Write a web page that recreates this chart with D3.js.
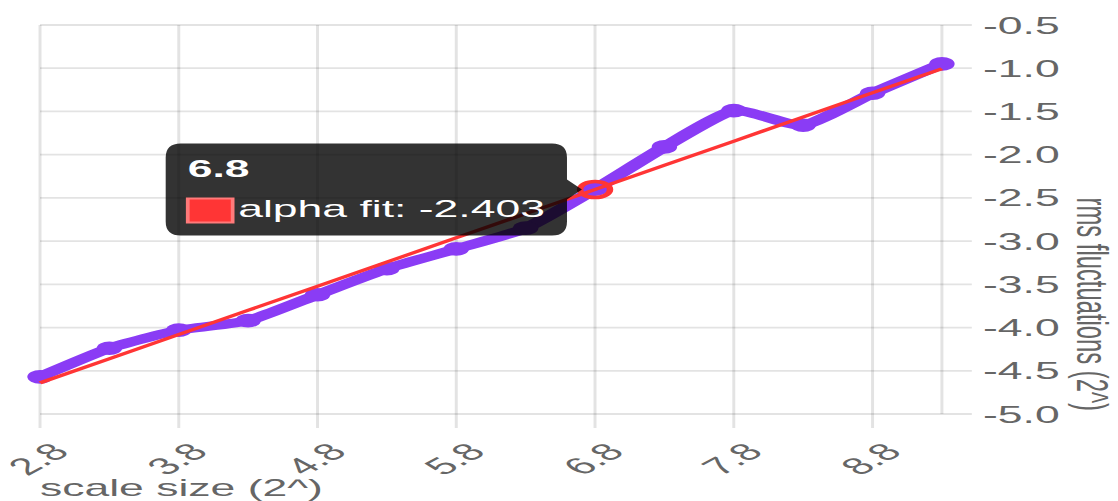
<!DOCTYPE html>
<html>
<head>
<meta charset="utf-8">
<script src="https://cdn.jsdelivr.net/npm/d3@7"></script>
<style>
  html, body { margin: 0; padding: 0; background: #fff; overflow: hidden; }
  svg { display: block; }
</style>
</head>
<body>
<svg id="chart" width="1118" height="501"></svg>
<script>
// Scale sizes (log2) on the category axis
const scaleSizes = ["2.8", "3.3", "3.8", "4.3", "4.8", "5.3", "5.8", "6.3", "6.8", "7.3", "7.8", "8.3", "8.8", "9.3"];
// Measured rms fluctuations (log2)
const rmsFluctuations = [-4.57, -4.24, -4.03, -3.92, -3.62, -3.32, -3.09, -2.85, -2.40, -1.91, -1.49, -1.66, -1.29, -0.95];
// Straight-line fit through the measurements
const alphaFit = [-4.640, -4.360, -4.081, -3.801, -3.522, -3.242, -2.962, -2.683, -2.403, -2.123, -1.844, -1.564, -1.285, -1.005];
const fitLabel = "alpha fit";
const yTicks = [-0.5, -1.0, -1.5, -2.0, -2.5, -3.0, -3.5, -4.0, -4.5, -5.0];
const xTitle = "scale size (2^)";
const yTitle = "rms fluctuations (2^)";
const activeIndex = 8;

// The canvas is drawn in a horizontally stretched coordinate space
const stretchX = 1.87;
const W = 1118, H = 501;
const font = "'Liberation Sans', Arial, Helvetica, sans-serif";
const fontSize = 23.8;
const textColor = "#666";
const gridColor = "rgba(0,0,0,0.11)";
const purple = "#8a3cf5";
const red = "#ff3535";

const plot = { left: 21.4, right: 503.7, top: 25, bottom: 414 };

const svg = d3.select("#chart");
const g = svg.append("g").attr("transform", `scale(${stretchX},1)`);

const x = d3.scalePoint().domain(scaleSizes).range([plot.left, plot.right]);
const y = d3.scaleLinear().domain([-5, -0.5]).range([plot.bottom, plot.top]);

const shownLabels = scaleSizes.filter((d, i) => i % 2 === 0);

// Grid: horizontal lines with tick stubs into the right axis
g.append("g").selectAll("line").data(yTicks).join("line")
  .attr("x1", plot.left).attr("x2", plot.right + 16)
  .attr("y1", d => y(d)).attr("y2", d => y(d))
  .attr("stroke", gridColor).attr("stroke-width", 1.8);

// Grid: vertical lines at the labelled categories, with tick stubs below
g.append("g").selectAll("line").data(shownLabels).join("line")
  .attr("x1", d => x(d)).attr("x2", d => x(d))
  .attr("y1", plot.top).attr("y2", plot.bottom + 14)
  .attr("stroke", gridColor).attr("stroke-width", 1.6);

// Right axis border
g.append("line")
  .attr("x1", plot.right).attr("x2", plot.right)
  .attr("y1", plot.top).attr("y2", plot.bottom)
  .attr("stroke", gridColor).attr("stroke-width", 1.6);

// Y tick labels (right side)
g.append("g").selectAll("text").data(yTicks).join("text")
  .attr("x", plot.right + 22).attr("y", d => y(d)).attr("dy", "0.36em")
  .attr("font-family", font).attr("font-size", fontSize).attr("fill", textColor)
  .text(d => d.toFixed(1));

// X tick labels, rotated
g.append("g").selectAll("text").data(shownLabels).join("text")
  .attr("transform", d => `translate(${x(d) + 10.5},${447}) rotate(-45)`)
  .attr("text-anchor", "end").attr("dy", "0.36em")
  .attr("font-family", font).attr("font-size", fontSize).attr("fill", textColor)
  .text(d => d);

// Axis titles
g.append("text")
  .attr("x", plot.left).attr("y", 496)
  .attr("font-family", font).attr("font-size", fontSize).attr("fill", textColor)
  .text(xTitle);

g.append("text")
  .attr("transform", `translate(${576},${411}) rotate(90)`)
  .attr("text-anchor", "end")
  .attr("font-family", font).attr("font-size", fontSize).attr("fill", textColor)
  .text(yTitle);

// Measured series
const lineGen = d3.line()
  .x((d, i) => x(scaleSizes[i]))
  .y(d => y(d))
  .curve(d3.curveCardinal.tension(0.45));

g.append("path").datum(rmsFluctuations)
  .attr("d", lineGen)
  .attr("fill", "none").attr("stroke", purple)
  .attr("stroke-width", 9).attr("stroke-linejoin", "round").attr("stroke-linecap", "round");

g.append("g").selectAll("circle").data(rmsFluctuations).join("circle")
  .attr("cx", (d, i) => x(scaleSizes[i])).attr("cy", d => y(d))
  .attr("r", 6.8).attr("fill", purple);

// Fit line
const fitGen = d3.line().x((d, i) => x(scaleSizes[i])).y(d => y(d));
g.append("path").datum(alphaFit)
  .attr("d", fitGen)
  .attr("fill", "none").attr("stroke", red).attr("stroke-width", 3);

// Hovered fit point
const px = x(scaleSizes[activeIndex]);
const py = y(alphaFit[activeIndex]);
g.append("circle")
  .attr("cx", px).attr("cy", py).attr("r", 8)
  .attr("fill", "none").attr("stroke", red).attr("stroke-width", 3.5);

// Tooltip
const tip = g.append("g");
const tipPath = tip.append("path").attr("fill", "rgba(0,0,0,0.8)");
const pad = 11.8, boxW = 24, boxH = 24, boxGap = 3;
const caretLen = 8, caretHalf = 10, caretGap = 7;
const bodyText = tip.append("text")
  .attr("font-family", font).attr("font-size", fontSize).attr("fill", "#fff")
  .text(`${fitLabel}: ${alphaFit[activeIndex]}`);
const bodyW = bodyText.node().getComputedTextLength();
const tipW = pad + boxW + boxGap + bodyW + pad;
const tipH = 92;
const R = px - caretGap - caretLen;
const L = R - tipW;
const T = py - tipH / 2;
const B = py + tipH / 2;
const rx = 8, ry = 14;
tipPath.attr("d",
  `M${L + rx},${T} H${R - rx} Q${R},${T} ${R},${T + ry} V${py - caretHalf} L${R + caretLen},${py} L${R},${py + caretHalf} ` +
  `V${B - ry} Q${R},${B} ${R - rx},${B} H${L + rx} Q${L},${B} ${L},${B - ry} V${T + ry} Q${L},${T} ${L + rx},${T} Z`);

tip.append("text")
  .attr("x", L + pad).attr("y", T + 34)
  .attr("font-family", font).attr("font-size", fontSize).attr("font-weight", "bold").attr("fill", "#fff")
  .text(scaleSizes[activeIndex]);

tip.append("rect")
  .attr("x", L + pad).attr("y", T + 55).attr("width", boxW).attr("height", boxH)
  .attr("fill", red).attr("stroke", "#ff7a7a").attr("stroke-width", 2);

bodyText.attr("x", L + pad + boxW + boxGap).attr("y", T + 73);
bodyText.raise();
</script>
</body>
</html>
